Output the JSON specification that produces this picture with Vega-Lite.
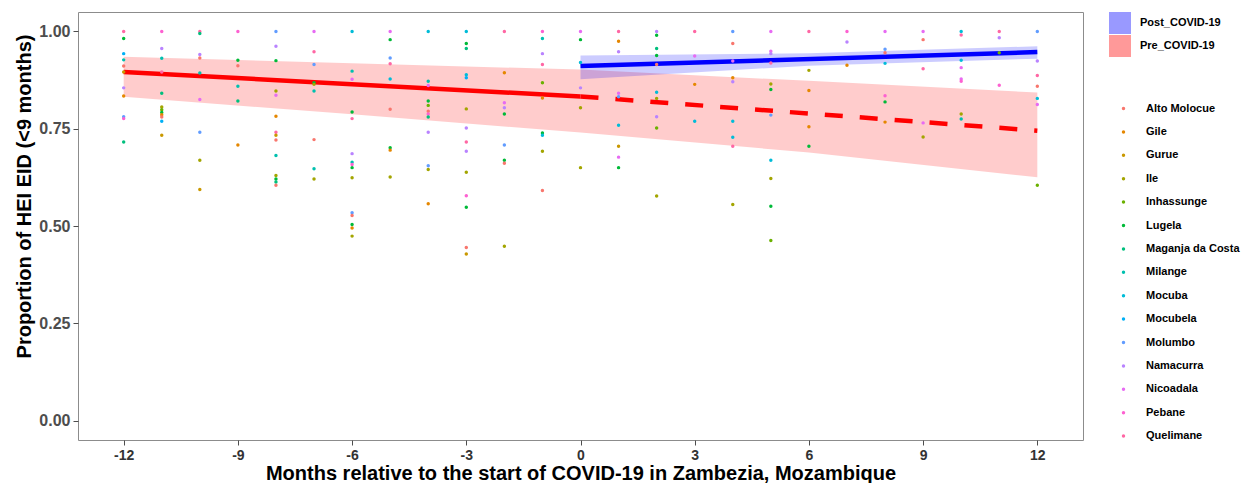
{
  "$schema": "https://vega.github.io/schema/vega-lite/v6.json",
  "width": 1005,
  "height": 428,
  "autosize": {"type": "none"},
  "padding": {"left": 78, "top": 12, "right": 161, "bottom": 43},
  "background": "white",
  "config": {
    "view": {"stroke": "#8c8c8c", "strokeWidth": 1},
    "axis": {"grid": false, "domain": false, "tickColor": "#4d4d4d", "tickSize": 5, "labelFont": "Liberation Sans", "labelFontWeight": "bold", "labelFontSize": 16, "labelColor": "#4d4d4d", "titleFont": "Liberation Sans", "titleFontWeight": "bold", "titleFontSize": 20, "titleColor": "black"},
    "legend": {"labelFont": "Liberation Sans", "labelFontWeight": "bold", "labelFontSize": 11, "labelColor": "black", "padding": 0}
  },
  "datasets": {
    "ribbons": [
      {"period": "Pre_COVID-19", "month": -12, "lo": 0.832, "hi": 0.935},
      {"period": "Pre_COVID-19", "month": -6, "lo": 0.787, "hi": 0.918},
      {"period": "Pre_COVID-19", "month": 0, "lo": 0.740, "hi": 0.902},
      {"period": "Pre_COVID-19", "month": 6, "lo": 0.689, "hi": 0.873},
      {"period": "Pre_COVID-19", "month": 12, "lo": 0.625, "hi": 0.843},
      {"period": "Post_COVID-19", "month": 0, "lo": 0.877, "hi": 0.938},
      {"period": "Post_COVID-19", "month": 6, "lo": 0.912, "hi": 0.944},
      {"period": "Post_COVID-19", "month": 12, "lo": 0.930, "hi": 0.962}
    ],
    "fits": [
      {"seg": "pre", "month": -12, "prop": 0.896},
      {"seg": "pre", "month": 0, "prop": 0.833},
      {"seg": "proj", "month": 0, "prop": 0.833},
      {"seg": "proj", "month": 12, "prop": 0.745},
      {"seg": "post", "month": 0, "prop": 0.911},
      {"seg": "post", "month": 12, "prop": 0.947}
    ],
    "points": [
      {"district": "Quelimane", "month": -12, "prop": 1.0},
      {"district": "Lugela", "month": -12, "prop": 0.982},
      {"district": "Mocubela", "month": -12, "prop": 0.943},
      {"district": "Milange", "month": -12, "prop": 0.927},
      {"district": "Alto Molocue", "month": -12, "prop": 0.911},
      {"district": "Gurue", "month": -12, "prop": 0.896},
      {"district": "Namacurra", "month": -12, "prop": 0.855},
      {"district": "Gile", "month": -12, "prop": 0.834},
      {"district": "Molumbo", "month": -12, "prop": 0.781},
      {"district": "Pebane", "month": -12, "prop": 0.776},
      {"district": "Maganja da Costa", "month": -12, "prop": 0.716},

      {"district": "Pebane", "month": -11, "prop": 1.0},
      {"district": "Namacurra", "month": -11, "prop": 0.956},
      {"district": "Milange", "month": -11, "prop": 0.931},
      {"district": "Quelimane", "month": -11, "prop": 0.896},
      {"district": "Maganja da Costa", "month": -11, "prop": 0.841},
      {"district": "Ile", "month": -11, "prop": 0.806},
      {"district": "Inhassunge", "month": -11, "prop": 0.799},
      {"district": "Lugela", "month": -11, "prop": 0.792},
      {"district": "Gile", "month": -11, "prop": 0.786},
      {"district": "Alto Molocue", "month": -11, "prop": 0.780},
      {"district": "Mocubela", "month": -11, "prop": 0.769},
      {"district": "Gurue", "month": -11, "prop": 0.733},

      {"district": "Quelimane", "month": -10, "prop": 1.0},
      {"district": "Maganja da Costa", "month": -10, "prop": 0.995},
      {"district": "Namacurra", "month": -10, "prop": 0.941},
      {"district": "Alto Molocue", "month": -10, "prop": 0.932},
      {"district": "Milange", "month": -10, "prop": 0.893},
      {"district": "Nicoadala", "month": -10, "prop": 0.825},
      {"district": "Molumbo", "month": -10, "prop": 0.741},
      {"district": "Ile", "month": -10, "prop": 0.669},
      {"district": "Gurue", "month": -10, "prop": 0.594},

      {"district": "Pebane", "month": -9, "prop": 1.0},
      {"district": "Lugela", "month": -9, "prop": 0.926},
      {"district": "Alto Molocue", "month": -9, "prop": 0.912},
      {"district": "Milange", "month": -9, "prop": 0.859},
      {"district": "Maganja da Costa", "month": -9, "prop": 0.821},
      {"district": "Gile", "month": -9, "prop": 0.708},

      {"district": "Molumbo", "month": -8, "prop": 1.0},
      {"district": "Namacurra", "month": -8, "prop": 0.962},
      {"district": "Lugela", "month": -8, "prop": 0.925},
      {"district": "Ile", "month": -8, "prop": 0.847},
      {"district": "Nicoadala", "month": -8, "prop": 0.836},
      {"district": "Gile", "month": -8, "prop": 0.782},
      {"district": "Quelimane", "month": -8, "prop": 0.741},
      {"district": "Gurue", "month": -8, "prop": 0.733},
      {"district": "Alto Molocue", "month": -8, "prop": 0.721},
      {"district": "Milange", "month": -8, "prop": 0.681},
      {"district": "Ile", "month": -8, "prop": 0.630},
      {"district": "Lugela", "month": -8, "prop": 0.621},
      {"district": "Maganja da Costa", "month": -8, "prop": 0.613},
      {"district": "Alto Molocue", "month": -8, "prop": 0.605},

      {"district": "Nicoadala", "month": -7, "prop": 1.0},
      {"district": "Quelimane", "month": -7, "prop": 0.948},
      {"district": "Molumbo", "month": -7, "prop": 0.915},
      {"district": "Lugela", "month": -7, "prop": 0.868},
      {"district": "Ile", "month": -7, "prop": 0.864},
      {"district": "Milange", "month": -7, "prop": 0.847},
      {"district": "Alto Molocue", "month": -7, "prop": 0.722},
      {"district": "Milange", "month": -7, "prop": 0.647},
      {"district": "Ile", "month": -7, "prop": 0.621},

      {"district": "Mocuba", "month": -6, "prop": 1.0},
      {"district": "Milange", "month": -6, "prop": 0.898},
      {"district": "Nicoadala", "month": -6, "prop": 0.877},
      {"district": "Lugela", "month": -6, "prop": 0.793},
      {"district": "Quelimane", "month": -6, "prop": 0.776},
      {"district": "Namacurra", "month": -6, "prop": 0.686},
      {"district": "Milange", "month": -6, "prop": 0.664},
      {"district": "Pebane", "month": -6, "prop": 0.658},
      {"district": "Lugela", "month": -6, "prop": 0.650},
      {"district": "Ile", "month": -6, "prop": 0.624},
      {"district": "Molumbo", "month": -6, "prop": 0.534},
      {"district": "Alto Molocue", "month": -6, "prop": 0.527},
      {"district": "Lugela", "month": -6, "prop": 0.504},
      {"district": "Gile", "month": -6, "prop": 0.495},
      {"district": "Ile", "month": -6, "prop": 0.474},

      {"district": "Nicoadala", "month": -5, "prop": 1.0},
      {"district": "Lugela", "month": -5, "prop": 0.979},
      {"district": "Molumbo", "month": -5, "prop": 0.932},
      {"district": "Quelimane", "month": -5, "prop": 0.917},
      {"district": "Mocuba", "month": -5, "prop": 0.878},
      {"district": "Alto Molocue", "month": -5, "prop": 0.800},
      {"district": "Lugela", "month": -5, "prop": 0.701},
      {"district": "Gile", "month": -5, "prop": 0.695},
      {"district": "Ile", "month": -5, "prop": 0.626},

      {"district": "Mocuba", "month": -4, "prop": 1.0},
      {"district": "Milange", "month": -4, "prop": 0.872},
      {"district": "Nicoadala", "month": -4, "prop": 0.861},
      {"district": "Lugela", "month": -4, "prop": 0.821},
      {"district": "Inhassunge", "month": -4, "prop": 0.810},
      {"district": "Alto Molocue", "month": -4, "prop": 0.795},
      {"district": "Pebane", "month": -4, "prop": 0.788},
      {"district": "Maganja da Costa", "month": -4, "prop": 0.780},
      {"district": "Namacurra", "month": -4, "prop": 0.741},
      {"district": "Molumbo", "month": -4, "prop": 0.655},
      {"district": "Ile", "month": -4, "prop": 0.645},
      {"district": "Gile", "month": -4, "prop": 0.557},

      {"district": "Mocuba", "month": -3, "prop": 1.0},
      {"district": "Lugela", "month": -3, "prop": 0.969},
      {"district": "Maganja da Costa", "month": -3, "prop": 0.956},
      {"district": "Mocuba", "month": -3, "prop": 0.889},
      {"district": "Mocubela", "month": -3, "prop": 0.881},
      {"district": "Ile", "month": -3, "prop": 0.801},
      {"district": "Namacurra", "month": -3, "prop": 0.752},
      {"district": "Quelimane", "month": -3, "prop": 0.716},
      {"district": "Namacurra", "month": -3, "prop": 0.692},
      {"district": "Ile", "month": -3, "prop": 0.638},
      {"district": "Pebane", "month": -3, "prop": 0.578},
      {"district": "Lugela", "month": -3, "prop": 0.548},
      {"district": "Alto Molocue", "month": -3, "prop": 0.445},
      {"district": "Gurue", "month": -3, "prop": 0.428},

      {"district": "Quelimane", "month": -2, "prop": 1.0},
      {"district": "Gile", "month": -2, "prop": 0.894},
      {"district": "Nicoadala", "month": -2, "prop": 0.817},
      {"district": "Namacurra", "month": -2, "prop": 0.804},
      {"district": "Lugela", "month": -2, "prop": 0.788},
      {"district": "Molumbo", "month": -2, "prop": 0.708},
      {"district": "Lugela", "month": -2, "prop": 0.669},
      {"district": "Alto Molocue", "month": -2, "prop": 0.661},
      {"district": "Ile", "month": -2, "prop": 0.448},

      {"district": "Pebane", "month": -1, "prop": 1.0},
      {"district": "Milange", "month": -1, "prop": 0.982},
      {"district": "Namacurra", "month": -1, "prop": 0.943},
      {"district": "Quelimane", "month": -1, "prop": 0.915},
      {"district": "Inhassunge", "month": -1, "prop": 0.868},
      {"district": "Gile", "month": -1, "prop": 0.829},
      {"district": "Lugela", "month": -1, "prop": 0.739},
      {"district": "Mocuba", "month": -1, "prop": 0.733},
      {"district": "Ile", "month": -1, "prop": 0.692},
      {"district": "Alto Molocue", "month": -1, "prop": 0.591},

      {"district": "Nicoadala", "month": 0, "prop": 1.0},
      {"district": "Lugela", "month": 0, "prop": 0.979},
      {"district": "Mocuba", "month": 0, "prop": 0.92},
      {"district": "Namacurra", "month": 0, "prop": 0.855},
      {"district": "Ile", "month": 0, "prop": 0.804},
      {"district": "Ile", "month": 0, "prop": 0.650},

      {"district": "Quelimane", "month": 1, "prop": 1.0},
      {"district": "Gile", "month": 1, "prop": 0.975},
      {"district": "Namacurra", "month": 1, "prop": 0.948},
      {"district": "Nicoadala", "month": 1, "prop": 0.841},
      {"district": "Molumbo", "month": 1, "prop": 0.832},
      {"district": "Mocuba", "month": 1, "prop": 0.759},
      {"district": "Gurue", "month": 1, "prop": 0.705},
      {"district": "Nicoadala", "month": 1, "prop": 0.677},
      {"district": "Lugela", "month": 1, "prop": 0.650},

      {"district": "Namacurra", "month": 2, "prop": 1.0},
      {"district": "Lugela", "month": 2, "prop": 0.990},
      {"district": "Maganja da Costa", "month": 2, "prop": 0.956},
      {"district": "Lugela", "month": 2, "prop": 0.938},
      {"district": "Alto Molocue", "month": 2, "prop": 0.915},
      {"district": "Mocuba", "month": 2, "prop": 0.844},
      {"district": "Ile", "month": 2, "prop": 0.828},
      {"district": "Namacurra", "month": 2, "prop": 0.781},
      {"district": "Inhassunge", "month": 2, "prop": 0.752},
      {"district": "Ile", "month": 2, "prop": 0.577},

      {"district": "Quelimane", "month": 3, "prop": 1.0},
      {"district": "Nicoadala", "month": 3, "prop": 0.937},
      {"district": "Gile", "month": 3, "prop": 0.864},
      {"district": "Mocuba", "month": 3, "prop": 0.769},

      {"district": "Molumbo", "month": 4, "prop": 1.0},
      {"district": "Alto Molocue", "month": 4, "prop": 0.969},
      {"district": "Nicoadala", "month": 4, "prop": 0.924},
      {"district": "Gile", "month": 4, "prop": 0.881},
      {"district": "Namacurra", "month": 4, "prop": 0.871},
      {"district": "Mocuba", "month": 4, "prop": 0.769},
      {"district": "Mocuba", "month": 4, "prop": 0.728},
      {"district": "Quelimane", "month": 4, "prop": 0.705},
      {"district": "Ile", "month": 4, "prop": 0.555},

      {"district": "Nicoadala", "month": 5, "prop": 1.0},
      {"district": "Nicoadala", "month": 5, "prop": 0.949},
      {"district": "Namacurra", "month": 5, "prop": 0.943},
      {"district": "Quelimane", "month": 5, "prop": 0.919},
      {"district": "Ile", "month": 5, "prop": 0.865},
      {"district": "Lugela", "month": 5, "prop": 0.851},
      {"district": "Molumbo", "month": 5, "prop": 0.785},
      {"district": "Mocuba", "month": 5, "prop": 0.669},
      {"district": "Ile", "month": 5, "prop": 0.622},
      {"district": "Lugela", "month": 5, "prop": 0.551},
      {"district": "Inhassunge", "month": 5, "prop": 0.463},

      {"district": "Quelimane", "month": 6, "prop": 1.0},
      {"district": "Ile", "month": 6, "prop": 0.900},
      {"district": "Gile", "month": 6, "prop": 0.848},
      {"district": "Gile", "month": 6, "prop": 0.755},
      {"district": "Lugela", "month": 6, "prop": 0.705},

      {"district": "Pebane", "month": 7, "prop": 1.0},
      {"district": "Namacurra", "month": 7, "prop": 0.973},
      {"district": "Gile", "month": 7, "prop": 0.913},

      {"district": "Nicoadala", "month": 8, "prop": 1.0},
      {"district": "Molumbo", "month": 8, "prop": 0.954},
      {"district": "Alto Molocue", "month": 8, "prop": 0.945},
      {"district": "Mocuba", "month": 8, "prop": 0.918},
      {"district": "Pebane", "month": 8, "prop": 0.835},
      {"district": "Lugela", "month": 8, "prop": 0.819},
      {"district": "Gile", "month": 8, "prop": 0.767},

      {"district": "Nicoadala", "month": 9, "prop": 1.0},
      {"district": "Alto Molocue", "month": 9, "prop": 0.979},
      {"district": "Quelimane", "month": 9, "prop": 0.904},
      {"district": "Nicoadala", "month": 9, "prop": 0.765},
      {"district": "Ile", "month": 9, "prop": 0.729},

      {"district": "Mocuba", "month": 10, "prop": 1.0},
      {"district": "Quelimane", "month": 10, "prop": 0.991},
      {"district": "Mocuba", "month": 10, "prop": 0.926},
      {"district": "Nicoadala", "month": 10, "prop": 0.907},
      {"district": "Nicoadala", "month": 10, "prop": 0.878},
      {"district": "Pebane", "month": 10, "prop": 0.872},
      {"district": "Ile", "month": 10, "prop": 0.788},
      {"district": "Milange", "month": 10, "prop": 0.775},

      {"district": "Quelimane", "month": 11, "prop": 1.0},
      {"district": "Namacurra", "month": 11, "prop": 0.984},
      {"district": "Inhassunge", "month": 11, "prop": 0.945},
      {"district": "Pebane", "month": 11, "prop": 0.862},

      {"district": "Molumbo", "month": 12, "prop": 1.0},
      {"district": "Namacurra", "month": 12, "prop": 0.924},
      {"district": "Quelimane", "month": 12, "prop": 0.887},
      {"district": "Alto Molocue", "month": 12, "prop": 0.859},
      {"district": "Mocuba", "month": 12, "prop": 0.828},
      {"district": "Nicoadala", "month": 12, "prop": 0.812},
      {"district": "Inhassunge", "month": 12, "prop": 0.605}
    ]
  },
  "encoding": {
    "x": {
      "field": "month", "type": "quantitative",
      "scale": {"domain": [-13.2, 13.2], "nice": false, "zero": false},
      "axis": {"values": [-12, -9, -6, -3, 0, 3, 6, 9, 12], "labelExpr": "'' + datum.value", "labelColor": "#333333", "labelPadding": 3, "titlePadding": 1, "labelFontSize": 14,
        "title": "Months relative to the start of COVID-19 in Zambezia, Mozambique"}
    }
  },
  "layer": [
    {
      "data": {"name": "ribbons"},
      "mark": {"type": "area", "opacity": 0.2},
      "encoding": {
        "y": {"field": "lo", "type": "quantitative", "scale": {"domain": [-0.05, 1.05], "nice": false, "zero": false},
          "axis": {"values": [0, 0.25, 0.5, 0.75, 1], "format": ".2f", "labelPadding": 3, "titleX": -44, "titleY": 184, "titleBaseline": "bottom", "title": "Proportion of HEI EID (<9 months)"}},
        "y2": {"field": "hi"},
        "fill": {"field": "period", "type": "nominal",
          "scale": {"domain": ["Post_COVID-19", "Pre_COVID-19"], "range": ["blue", "red"]},
          "legend": {"title": null, "orient": "none", "legendX": 1031, "legendY": 0, "symbolType": "square", "symbolSize": 484, "symbolOpacity": 0.4, "symbolStrokeWidth": 0, "labelOffset": 9, "rowPadding": 1}}
      }
    },
    {
      "data": {"name": "fits"},
      "transform": [{"filter": "datum.seg === 'pre'"}],
      "mark": {"type": "line", "color": "red", "strokeWidth": 4.5, "strokeCap": "butt"},
      "encoding": {
        "y": {"field": "prop", "type": "quantitative", "scale": {"domain": [-0.05, 1.05], "nice": false, "zero": false}, "axis": {"values": [0, 0.25, 0.5, 0.75, 1], "format": ".2f", "labelPadding": 3, "titleX": -44, "titleY": 184, "titleBaseline": "bottom", "title": "Proportion of HEI EID (<9 months)"}}
      }
    },
    {
      "data": {"name": "fits"},
      "transform": [{"filter": "datum.seg === 'proj'"}],
      "mark": {"type": "line", "color": "red", "strokeWidth": 4.5, "strokeCap": "butt", "strokeDash": [18, 17]},
      "encoding": {
        "y": {"field": "prop", "type": "quantitative", "scale": {"domain": [-0.05, 1.05], "nice": false, "zero": false}, "axis": {"values": [0, 0.25, 0.5, 0.75, 1], "format": ".2f", "labelPadding": 3, "titleX": -44, "titleY": 184, "titleBaseline": "bottom", "title": "Proportion of HEI EID (<9 months)"}}
      }
    },
    {
      "data": {"name": "fits"},
      "transform": [{"filter": "datum.seg === 'post'"}],
      "mark": {"type": "line", "color": "blue", "strokeWidth": 4.5, "strokeCap": "butt"},
      "encoding": {
        "y": {"field": "prop", "type": "quantitative", "scale": {"domain": [-0.05, 1.05], "nice": false, "zero": false}, "axis": {"values": [0, 0.25, 0.5, 0.75, 1], "format": ".2f", "labelPadding": 3, "titleX": -44, "titleY": 184, "titleBaseline": "bottom", "title": "Proportion of HEI EID (<9 months)"}}
      }
    },
    {
      "data": {"name": "points"},
      "mark": {"type": "circle", "size": 12, "opacity": 1},
      "encoding": {
        "y": {"field": "prop", "type": "quantitative", "scale": {"domain": [-0.05, 1.05], "nice": false, "zero": false}, "axis": {"values": [0, 0.25, 0.5, 0.75, 1], "format": ".2f", "labelPadding": 3, "titleX": -44, "titleY": 184, "titleBaseline": "bottom", "title": "Proportion of HEI EID (<9 months)"}},
        "color": {"field": "district", "type": "nominal",
          "scale": {
            "domain": ["Alto Molocue", "Gile", "Gurue", "Ile", "Inhassunge", "Lugela", "Maganja da Costa", "Milange", "Mocuba", "Mocubela", "Molumbo", "Namacurra", "Nicoadala", "Pebane", "Quelimane"],
            "range": ["#F8766D", "#E58700", "#C99800", "#A3A500", "#6BB100", "#00BA38", "#00BF7D", "#00C0AF", "#00BCD8", "#00B0F6", "#619CFF", "#B983FF", "#E76BF3", "#FD61D1", "#FF67A4"]},
          "legend": {"title": null, "orient": "none", "legendX": 1040, "legendY": 91, "symbolType": "circle", "symbolSize": 12, "symbolOpacity": 1, "symbolStrokeWidth": 0, "labelOffset": 17, "rowPadding": 11.4}}
      }
    },
    {
      "mark": {"type": "rule", "color": "black", "strokeWidth": 1, "strokeDash": [4, 4]},
      "encoding": {"x": {"datum": 0}}
    }
  ]
}
